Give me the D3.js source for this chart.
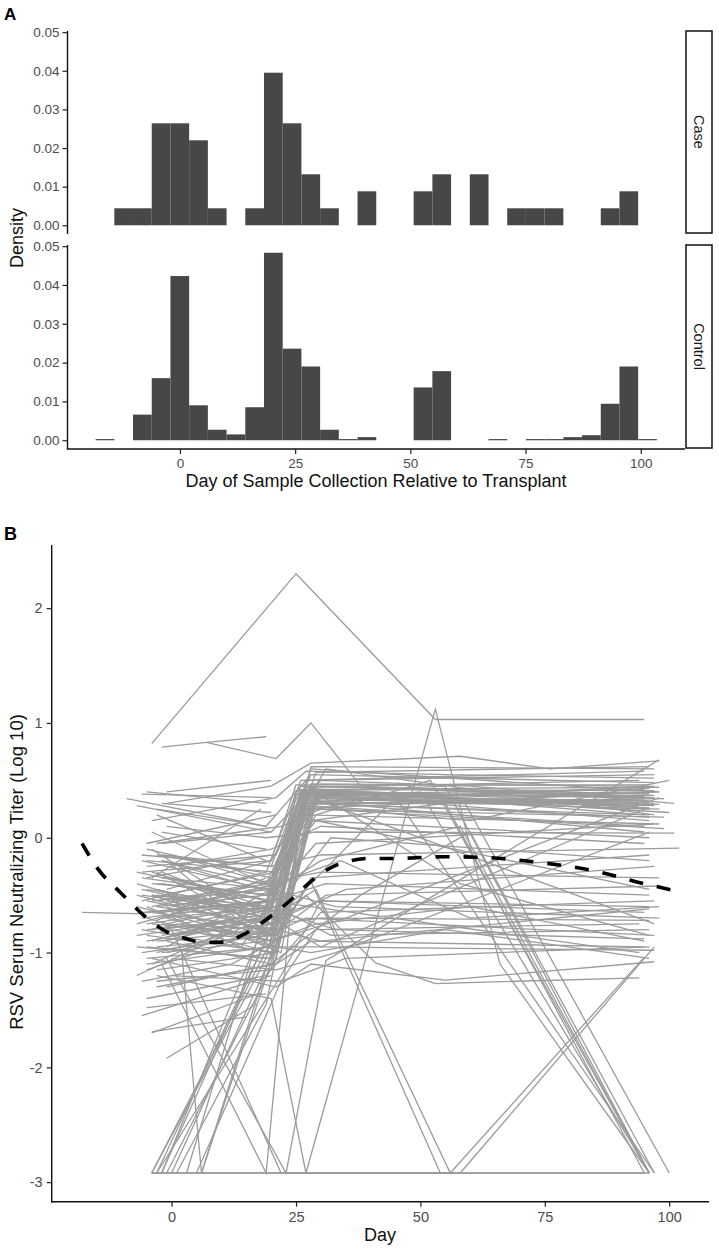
<!DOCTYPE html>
<html>
<head>
<meta charset="utf-8">
<script src="https://cdn.jsdelivr.net/npm/d3@7"></script>
<style>
  body { margin: 0; background: #fff; }
  svg { display: block; font-family: "Liberation Sans", Arial, sans-serif; }
</style>
</head>
<body>
<svg></svg>
<script>
// ---- panel A: histogram data (30 bins) ----
let binStart = -18.3, binWidth = 4.06;
let caseDensity = [0, 0.0044, 0.0044, 0.0264, 0.0264, 0.0220, 0.0044, 0, 0.0044, 0.0395,
                   0.0264, 0.0132, 0.0044, 0, 0.0088, 0, 0, 0.0088, 0.0132, 0,
                   0.0132, 0, 0.0044, 0.0044, 0.0044, 0, 0, 0.0044, 0.0088, 0];
let controlDensity = [0.0003, 0, 0.0066, 0.0160, 0.0423, 0.0090, 0.0027, 0.0015, 0.0085, 0.0483,
                      0.0236, 0.0190, 0.0027, 0.0003, 0.0008, 0, 0, 0.0136, 0.0178, 0,
                      0, 0.0003, 0, 0.0003, 0.0003, 0.0008, 0.0013, 0.0094, 0.0190, 0.0003];
let facetNames = ['Case', 'Control'];
let densityTicks = [0, 0.01, 0.02, 0.03, 0.04, 0.05];
let dayTicks = [0, 25, 50, 75, 100];

// ---- panel B: titer trajectories, [day, log10 titer] ----
let trajectories = [
  [[-4,0.82],[25,2.30],[53,1.03],[95,1.03]],
  [[-2,0.79],[7,0.83],[19,0.88]],
  [[7,0.83],[21,0.69],[28,1.00],[38,0.45],[60,0.40],[97,0.35]],
  [[-18,-0.65],[-7,-0.66],[20,-0.55],[27,0.35],[96,0.28]],
  [[-5,-0.45],[20,-0.62],[26,0.40],[96,0.35]],
  [[-3,-0.30],[19,-0.80],[27,0.42],[97,0.30]],
  [[-6,-0.70],[21,-0.55],[25,0.38],[95,0.42]],
  [[-1,-0.20],[20,-0.95],[27,0.35],[98,0.25]],
  [[-4,0.05],[19,-0.40],[28,0.45],[96,0.38]],
  [[-2,-0.85],[21,-0.70],[26,0.30],[97,0.45]],
  [[0,-0.55],[22,-0.35],[28,0.43],[95,0.20]],
  [[-5,-0.95],[20,-1.05],[26,0.33],[96,0.31]],
  [[-3,-0.60],[19,-0.50],[25,0.25],[98,0.40]],
  [[-7,-0.40],[20,-0.75],[27,0.44],[94,0.50]],
  [[1,-0.75],[21,-0.90],[29,0.40],[97,0.28]],
  [[-4,-1.10],[22,-0.60],[27,0.38],[96,0.15]],
  [[-2,-0.15],[20,-0.25],[26,0.45],[95,0.36]],
  [[-6,-0.50],[19,-0.65],[28,0.30],[99,0.34]],
  [[-1,-0.95],[20,-0.45],[25,0.41],[96,0.26]],
  [[-5,-0.25],[21,-0.15],[28,0.55],[97,0.48]],
  [[-3,-1.25],[20,-1.15],[27,0.28],[95,0.10]],
  [[0,-0.35],[19,-0.55],[26,0.42],[98,0.44]],
  [[-4,-0.65],[22,-0.80],[29,0.36],[96,0.32]],
  [[-2,-0.50],[21,-0.30],[30,0.40],[100,0.22]],
  [[-7,-0.85],[18,-0.70],[26,0.35],[94,0.30]],
  [[-3,0.25],[19,0.10],[27,0.50],[97,0.55]],
  [[-5,-0.10],[20,-0.35],[28,0.60],[98,0.40]],
  [[-1,-0.60],[22,-1.00],[28,0.32],[95,0.05]],
  [[-6,-0.30],[20,-0.20],[25,0.46],[96,0.46]],
  [[1,-0.40],[21,-0.65],[27,0.40],[93,0.27]],
  [[-4,-0.80],[20,-0.60],[26,0.37],[97,0.37]],
  [[-2,-1.00],[19,-0.90],[27,0.25],[99,0.18]],
  [[-1,0.30],[20,0.45],[28,0.65],[58,0.71],[76,0.60],[98,0.67]],
  [[-4,0.15],[21,0.35],[27,0.58],[55,0.55],[97,0.52]],
  [[-2,-0.05],[20,0.05],[30,0.50],[60,0.45],[101,0.30]],
  [[-5,-0.55],[19,-0.75],[24,0.20],[40,0.35],[96,0.43]],
  [[-3,-0.40],[20,-0.50],[26,0.39],[55,0.30],[95,0.34]],
  [[0,-0.85],[21,-0.75],[27,0.41],[56,0.38],[96,0.39]],
  [[-4,-0.75],[20,-0.85],[28,0.62],[97,0.60]],
  [[-2,-0.35],[21,-0.45],[29,0.57],[96,0.62]],
  [[-6,-0.55],[19,-0.30],[26,0.50],[95,0.58]],
  [[0,-0.15],[20,-0.40],[27,0.20],[98,0.12]],
  [[-3,-0.05],[22,0.10],[30,0.25],[99,0.08]],
  [[-5,-0.85],[21,-1.00],[28,0.15],[96,0.00]],
  [[-1,-0.45],[20,-0.20],[31,0.60],[97,0.20]],
  [[-4,-0.30],[19,-0.60],[26,0.28],[60,0.15],[100,0.50]],
  [[-4,-0.40],[20,-0.50],[29,-0.05],[97,0.12]],
  [[-2,-0.70],[21,-0.60],[32,0.00],[96,-0.20]],
  [[-3,-0.50],[21,-0.65],[28,0.35],[97,-0.75]],
  [[-5,-0.90],[20,-0.70],[30,-0.95],[95,0.25]],
  [[-2,-0.20],[22,-0.50],[27,0.45],[58,-0.40],[96,-0.85]],
  [[0,-1.05],[21,-1.15],[33,-1.00],[96,0.05]],
  [[-4,-0.60],[19,-0.40],[29,0.15],[96,-0.45]],
  [[-1,-0.80],[20,-0.90],[35,-0.70],[98,0.35]],
  [[-5,-0.80],[20,-0.70],[30,-0.55],[96,-0.60]],
  [[-3,-1.30],[21,-1.10],[28,-0.90],[95,-0.95]],
  [[-6,-1.00],[19,-0.85],[27,-0.70],[97,-0.85]],
  [[-2,-0.40],[20,-0.55],[31,-0.40],[96,-0.50]],
  [[0,-1.20],[22,-1.25],[29,-0.80],[94,-0.75]],
  [[-4,-0.55],[20,-0.45],[33,-0.60],[98,-0.70]],
  [[-1,-0.70],[21,-0.95],[28,-1.00],[55,-0.80],[96,-1.05]],
  [[-5,-1.40],[19,-1.20],[30,-0.65],[97,-0.55]],
  [[-3,-0.90],[20,-0.80],[27,-0.50],[41,-1.09],[53,-1.27],[94,-1.22]],
  [[-2,-0.20],[18,-0.40],[30,-0.30],[98,-0.35]],
  [[-7,-0.60],[20,-0.90],[29,-0.75],[60,-0.60],[95,-0.90]],
  [[1,-0.85],[21,-0.60],[32,-0.85],[96,-0.80]],
  [[-4,-1.05],[21,-1.30],[28,-1.10],[55,-1.24],[97,-1.08]],
  [[-6,-0.15],[20,-0.25],[30,-0.15],[102,-0.09]],
  [[-1,0.10],[19,0.00],[29,0.05],[101,0.04]],
  [[-3,-0.45],[22,-0.70],[35,-0.45],[97,-0.25]],
  [[-5,-0.70],[20,-1.00],[28,-0.35],[96,-0.15]],
  [[0,-0.25],[20,-0.10],[30,0.10],[95,-0.05]],
  [[-2,-0.65],[21,-0.40],[34,-0.20],[60,-0.70],[98,-0.60]],
  [[-3,-0.60],[21,-0.75],[30,-0.70],[96,-0.72]],
  [[-5,-1.10],[20,-0.95],[29,-0.95],[97,-0.98]],
  [[-2,-0.80],[22,-0.65],[33,-0.80],[95,-0.88]],
  [[0,-0.50],[20,-0.85],[31,-0.50],[98,-0.42]],
  [[-6,-0.65],[19,-0.55],[28,-0.60],[94,-1.00]],
  [[-1,-1.00],[21,-0.80],[30,-0.90],[96,-0.62]],
  [[-4,-0.50],[20,-0.60],[27,0.30],[50,0.40],[96,-2.92]],
  [[-2,-0.75],[21,-0.80],[28,0.15],[55,0.30],[95,-2.92]],
  [[-6,-0.35],[19,-0.50],[30,-0.20],[58,0.10],[96,-2.92]],
  [[-3,-1.00],[20,-0.75],[45,0.35],[97,-2.92]],
  [[0,-0.60],[22,-0.40],[28,0.40],[55,0.45],[96,-2.92]],
  [[-1,-0.90],[20,-1.10],[38,-0.50],[60,0.05],[97,-2.92]],
  [[-5,-0.20],[21,-0.30],[30,0.35],[59,0.30],[100,-2.92]],
  [[-2,-0.65],[20,-0.55],[29,0.20],[52,0.50],[96,-2.92]],
  [[-4,-2.92],[19,-1.05],[26,0.30],[96,0.20]],
  [[-4,-2.92],[20,-0.90],[27,0.38],[97,0.35]],
  [[-3,-2.92],[21,-0.70],[28,0.42]],
  [[-3,-2.92],[22,-1.20],[30,-0.55],[95,-0.65]],
  [[-2,-2.92],[20,-0.60],[26,0.36],[96,0.40]],
  [[-1,-2.92],[21,-1.05],[29,0.30],[98,0.29]],
  [[0,-2.92],[22,-0.85],[27,0.33]],
  [[1,-2.92],[19,-1.45],[25,-0.20]],
  [[-4,-2.92],[6,-2.92],[20,-1.00],[28,0.30],[96,0.18]],
  [[-2,-2.92],[23,-0.50],[30,0.42],[97,0.41]],
  [[3,-2.92],[21,-0.35],[28,0.47],[95,0.45]],
  [[5,-2.92],[22,-1.25],[35,-1.05],[96,-0.95]],
  [[-2,-1.10],[19,-2.92],[26,0.35],[96,0.25]],
  [[-1,-1.05],[23,-2.92],[31,-1.07],[98,0.68]],
  [[2,-0.98],[6,-2.92],[21,-0.95],[27,0.30]],
  [[-3,-1.20],[20,-1.40],[27,-2.92],[53,1.12],[66,-1.10],[96,-2.92]],
  [[0,-0.80],[22,-2.92],[56,-2.92],[96,-2.92]],
  [[-4,-2.92],[22,-2.92],[56,-2.92],[95,-2.92]],
  [[6,-2.92],[27,-2.92],[58,-2.92],[97,-0.95]],
  [[-3,-0.95],[21,-0.85],[28,-0.38],[54,-2.92]],
  [[-1,-0.55],[20,-0.70],[29,-0.45],[56,-2.92],[95,-1.04]],
  [[-9,0.34],[19,0.10]],
  [[-6,0.38],[20,0.35]],
  [[-5,0.40],[19,0.30]],
  [[-7,-1.20],[21,-0.65]],
  [[-6,-1.55],[20,-1.20]],
  [[-4,-1.70],[18,-1.35]],
  [[-1,-1.92],[17,-1.45]],
  [[-4,-1.69],[15,-1.56]],
  [[-5,-1.48],[19,-1.36]],
  [[-7,-0.95],[19,-1.05]],
  [[-5,-0.05],[21,0.20]],
  [[-2,0.05],[19,-0.10]],
  [[-7,-0.30],[20,-0.55]],
  [[-4,-0.35],[18,0.25]],
  [[-1,0.40],[20,0.50]],
  [[-7,0.28],[20,0.05]],
  [[-3,0.20],[19,-0.20]],
  [[-6,-0.80],[20,-1.00]],
  [[-5,-1.15],[19,-0.80]],
  [[-1,-1.30],[20,-1.10]],
  [[-4,-0.10],[20,-0.75]],
  [[-2,0.30],[20,0.22]],
  [[-3,-0.72],[19,-0.35]],
  [[-6,-1.25],[12,-1.10],[21,-0.90]],
  [[-5,-0.60],[14,-0.95],[22,-0.40]],
  [[-6,-0.45],[20,-0.70]],
  [[-5,-0.75],[19,-0.60]],
  [[-4,-0.50],[21,-0.85]],
  [[-3,-0.55],[20,-0.40]],
  [[-2,-0.90],[19,-0.70]],
  [[-7,-0.75],[18,-0.45]],
  [[-1,-0.75],[20,-0.55]],
  [[-6,-0.20],[19,-0.45]],
  [[-5,-0.35],[20,-0.15]],
  [[-4,-0.90],[21,-0.60]],
  [[-3,-0.15],[18,-0.30]],
  [[0,-0.65],[20,-0.85]],
  [[-2,-0.30],[19,-0.65]],
  [[-7,-0.50],[19,-0.80]],
  [[-5,-1.05],[20,-0.95]],
  [[-3,-1.15],[21,-1.00]]
];
let loessDay   = [-18, -15, -10, -6, -1, 3, 6, 10, 15, 20, 24, 28, 33, 40, 45, 55, 62, 73, 84, 95, 102];
let loessTiter = [-0.05, -0.26, -0.49, -0.66, -0.82, -0.88, -0.91, -0.91, -0.83, -0.68, -0.54, -0.38, -0.24, -0.18, -0.18, -0.165, -0.17, -0.21, -0.28, -0.40, -0.47];
let titerTicks = [-3, -2, -1, 0, 1, 2];

let svg = d3.select('svg').attr('width', 719).attr('height', 1250);
let tickGrey = '#4d4d4d';
let fontFam = 'Liberation Sans, Arial, sans-serif';

function styleAxis(a, size) {
  a.select('.domain').remove();
  a.selectAll('.tick line').attr('stroke', '#222').attr('stroke-width', 1.2);
  a.selectAll('.tick text').attr('fill', tickGrey).style('font-size', size).style('font-family', fontFam);
}

// ================= Panel A =================
let xA = d3.scaleLinear().domain([-24.4, 109.6]).range([67.5, 685]);
let panels = [
  {name: facetNames[0], values: caseDensity, top: 31, bottom: 233},
  {name: facetNames[1], values: controlDensity, top: 245, bottom: 448}
];

panels.forEach(p => {
  let y = d3.scaleLinear().domain([-0.002, 0.0503]).range([p.bottom, p.top]);
  let bins = p.values.map((v, i) => ({x0: binStart + i * binWidth, x1: binStart + (i + 1) * binWidth, v: v}))
                     .filter(b => b.v > 0);
  let g = svg.append('g');
  g.selectAll('rect.bar').data(bins).join('rect')
    .attr('class', 'bar')
    .attr('x', d => xA(d.x0))
    .attr('width', d => xA(d.x1) - xA(d.x0))
    .attr('y', d => y(d.v))
    .attr('height', d => Math.max(1.2, y(0) - y(d.v)))
    .attr('fill', '#474747');

  let ax = g.append('g')
    .attr('transform', 'translate(67.5,0)')
    .call(d3.axisLeft(y).tickValues(densityTicks).tickFormat(d3.format('.2f')).tickSize(5).tickPadding(3));
  styleAxis(ax, '13.5px');
  g.append('line').attr('x1', 67.5).attr('x2', 67.5).attr('y1', p.top).attr('y2', p.bottom + 1)
    .attr('stroke', '#111').attr('stroke-width', 1.4);

  // facet strip
  g.append('rect').attr('x', 686).attr('y', p.top).attr('width', 26).attr('height', p.bottom - p.top)
    .attr('fill', '#fff').attr('stroke', '#111').attr('stroke-width', 1.5);
  g.append('text')
    .attr('transform', 'translate(699,' + ((p.top + p.bottom) / 2) + ') rotate(90)')
    .attr('text-anchor', 'middle').attr('dominant-baseline', 'central')
    .style('font-size', '14.5px').attr('fill', '#1a1a1a')
    .text(p.name);
});

let axA = svg.append('g')
  .attr('transform', 'translate(0,449)')
  .call(d3.axisBottom(xA).tickValues(dayTicks).tickSize(5).tickPadding(4));
styleAxis(axA, '13.5px');
svg.append('line').attr('x1', 66.8).attr('x2', 685).attr('y1', 449).attr('y2', 449)
  .attr('stroke', '#111').attr('stroke-width', 1.4);

svg.append('text').attr('x', 376).attr('y', 487).attr('text-anchor', 'middle')
  .style('font-size', '18px').attr('fill', '#111')
  .text('Day of Sample Collection Relative to Transplant');
svg.append('text').attr('transform', 'translate(23,238) rotate(-90)').attr('text-anchor', 'middle')
  .style('font-size', '18px').attr('fill', '#111').text('Density');
svg.append('text').attr('x', 4).attr('y', 20).style('font-size', '17px').style('font-weight', 'bold').text('A');

// ================= Panel B =================
let xB = d3.scaleLinear().domain([-24.1, 108]).range([51.7, 709]);
let yB = d3.scaleLinear().domain([-3.17, 2.55]).range([1201.7, 545]);
let line = d3.line().x(d => xB(d[0])).y(d => yB(d[1]));

svg.append('g').selectAll('path').data(trajectories).join('path')
  .attr('d', line)
  .attr('fill', 'none')
  .attr('stroke', '#9b9b9b')
  .attr('stroke-width', 1.3);

let loess = loessDay.map((d, i) => [d, loessTiter[i]]);
svg.append('path')
  .attr('d', d3.line().x(d => xB(d[0])).y(d => yB(d[1])).curve(d3.curveMonotoneX)(loess))
  .attr('fill', 'none')
  .attr('stroke', '#000')
  .attr('stroke-width', 3.6)
  .attr('stroke-dasharray', '14,14');

let axBx = svg.append('g').attr('transform', 'translate(0,1201.7)')
  .call(d3.axisBottom(xB).tickValues(dayTicks).tickSize(5).tickPadding(5));
let axBy = svg.append('g').attr('transform', 'translate(51.7,0)')
  .call(d3.axisLeft(yB).tickValues(titerTicks).tickFormat(d => String(d)).tickSize(5).tickPadding(4));
styleAxis(axBx, '14.5px');
styleAxis(axBy, '14.5px');
svg.append('line').attr('x1', 51.7).attr('x2', 51.7).attr('y1', 545).attr('y2', 1202.4)
  .attr('stroke', '#111').attr('stroke-width', 1.4);
svg.append('line').attr('x1', 51).attr('x2', 709).attr('y1', 1201.7).attr('y2', 1201.7)
  .attr('stroke', '#111').attr('stroke-width', 1.4);

svg.append('text').attr('x', 380).attr('y', 1241).attr('text-anchor', 'middle')
  .style('font-size', '18px').attr('fill', '#111').text('Day');
svg.append('text').attr('transform', 'translate(23,872) rotate(-90)').attr('text-anchor', 'middle')
  .style('font-size', '18.5px').attr('fill', '#111').text('RSV Serum Neutralizing Titer (Log 10)');
svg.append('text').attr('x', 4).attr('y', 540).style('font-size', '18px').style('font-weight', 'bold').text('B');
</script>
</body>
</html>
